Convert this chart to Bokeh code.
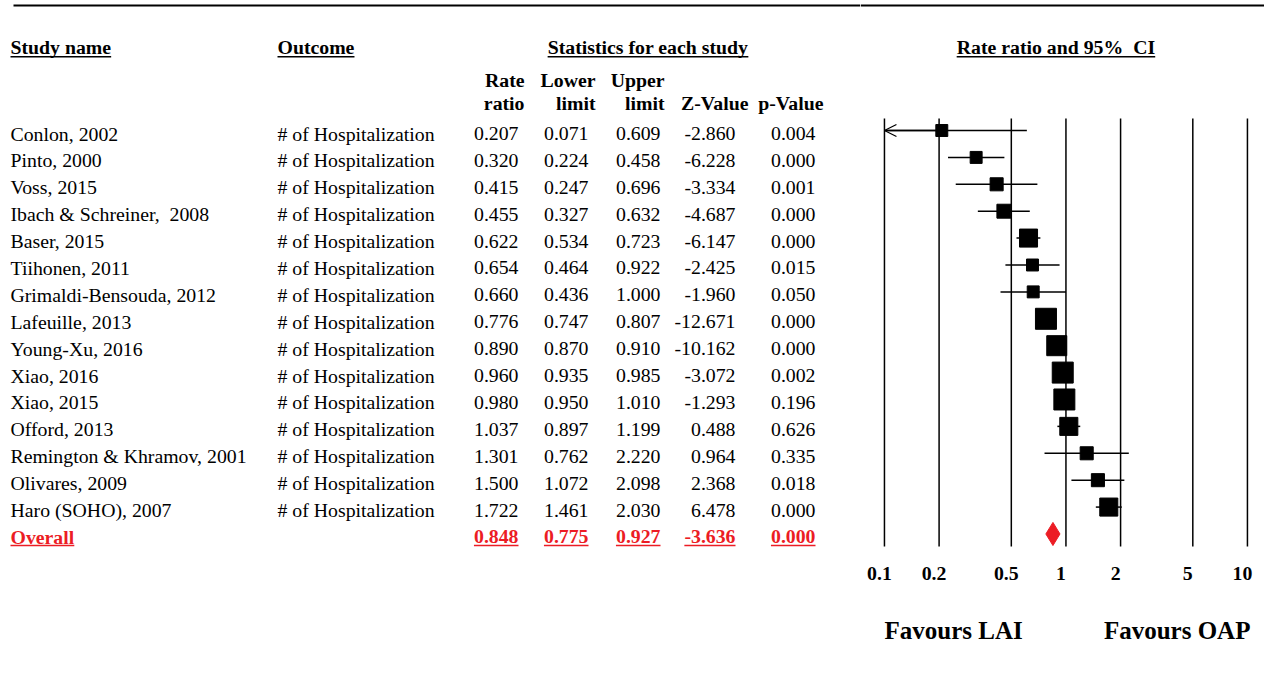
from bokeh.plotting import figure
from bokeh.layouts import row
from bokeh.models import Range1d, Span, Arrow, OpenHead
from bokeh.core.properties import value
from bokeh.embed import file_html
from bokeh.resources import INLINE
import math

NBSP = "\u00a0"

# ---- study data -------------------------------------------------------------
studies = [
    "Conlon, 2002", "Pinto, 2000", "Voss, 2015", "Ibach & Schreiner," + NBSP + " 2008",
    "Baser, 2015", "Tiihonen, 2011", "Grimaldi-Bensouda, 2012", "Lafeuille, 2013",
    "Young-Xu, 2016", "Xiao, 2016", "Xiao, 2015", "Offord, 2013",
    "Remington & Khramov, 2001", "Olivares, 2009", "Haro (SOHO), 2007",
]
outcome = ["# of Hospitalization"] * len(studies)
rate_ratio = [0.207, 0.320, 0.415, 0.455, 0.622, 0.654, 0.660, 0.776,
              0.890, 0.960, 0.980, 1.037, 1.301, 1.500, 1.722]
lower_limit = [0.071, 0.224, 0.247, 0.327, 0.534, 0.464, 0.436, 0.747,
               0.870, 0.935, 0.950, 0.897, 0.762, 1.072, 1.461]
upper_limit = [0.609, 0.458, 0.696, 0.632, 0.723, 0.922, 1.000, 0.807,
               0.910, 0.985, 1.010, 1.199, 2.220, 2.098, 2.030]
z_value = [-2.860, -6.228, -3.334, -4.687, -6.147, -2.425, -1.960, -12.671,
           -10.162, -3.072, -1.293, 0.488, 0.964, 2.368, 6.478]
p_value = [0.004, 0.000, 0.001, 0.000, 0.000, 0.015, 0.050, 0.000,
           0.000, 0.002, 0.196, 0.626, 0.335, 0.018, 0.000]
# relative study weights (box area is proportional to weight)
weight = [3.6, 3.6, 4.3, 4.9, 8.2, 3.6, 3.6, 11.1, 10.1, 11.1, 11.1, 8.2, 4.3, 4.3, 8.2]

overall_label = "Overall"
overall_rr, overall_lo, overall_hi, overall_z, overall_p = 0.848, 0.775, 0.927, -3.636, 0.000

tick_values = [0.1, 0.2, 0.5, 1, 2, 5, 10]
tick_labels = ["0.1", "0.2", "0.5", "1", "2", "5", "10"]
left_note, right_note = "Favours LAI", "Favours OAP"

# ---- styling ----------------------------------------------------------------
FONT = value("Liberation Serif")
FS = "19.8px"
RED = "#EC1C24"
W_LEFT, W_RIGHT, H = 860, 404, 679

# Times bold advance widths (per 1000 em) for underline lengths
_BOLD = {' ': 250, NBSP: 250, '%': 1000, '-': 333, '.': 250, 'A': 722, 'C': 722, 'I': 389,
         'O': 778, 'S': 556, 'R': 722, 'a': 500, 'c': 444, 'd': 556, 'e': 444,
         'f': 333, 'h': 556, 'i': 278, 'l': 278, 'm': 833, 'n': 556, 'o': 500,
         'r': 444, 's': 389, 't': 333, 'u': 556, 'v': 500, 'y': 500}


def bold_width(s, px=19.8):
    return sum(_BOLD.get(ch, 500) for ch in s) / 1000.0 * px


n = len(studies)
rows = list(range(n))
overall_row = n

# shared vertical range in row units (row 0 at top)
yr = Range1d(20.41, -4.833)

# vertical layout positions (row units)
Y_RULE = -4.647
Y_TITLE = -3.09
Y_TITLE_UL = -2.74
Y_HEAD1 = -1.86
Y_HEAD2 = -1.04
Y_GRID_TOP, Y_GRID_BOT = -0.446, 15.465
Y_TICKLAB = 16.47
Y_NOTE = 18.59
TEXT_DY = 3

# ---- left panel: study table -------------------------------------------------
pl = figure(width=W_LEFT, height=H, x_range=Range1d(0, W_LEFT), y_range=yr,
            toolbar_location=None, output_backend="svg", min_border=0,
            outline_line_color=None, x_axis_location=None, y_axis_location=None)
pl.grid.visible = False

pl.segment(x0=[13], y0=[Y_RULE], x1=[W_LEFT + 10], y1=[Y_RULE], line_color="black", line_width=2)

X_NAME, X_OUT = 10, 277
col_right = [518, 588, 660, 735, 815]
head_right = [524, 595, 664, 748, 823]
X_STATS_CENTER = 647.5

# column titles (bold, underlined)
titles = [("Study name", X_NAME, "left"), ("Outcome", X_OUT, "left"),
          ("Statistics for each study", X_STATS_CENTER, "center")]
for txt, x, align in titles:
    pl.text(x=[x], y=[Y_TITLE], text=[txt], text_font=FONT, text_font_size=FS,
            text_font_style="bold", text_align=align, text_baseline="middle")
    w = bold_width(txt)
    x0 = x if align == "left" else x - w / 2
    pl.segment(x0=[x0], y0=[Y_TITLE_UL], x1=[x0 + w], y1=[Y_TITLE_UL],
               line_color="black", line_width=1.5)

head1 = ["Rate", "Lower", "Upper", "", ""]
head2 = ["ratio", "limit", "limit", "Z-Value", "p-Value"]
pl.text(x=head_right, y=[Y_HEAD1] * 5, text=head1, text_font=FONT, text_font_size=FS,
        text_font_style="bold", text_align="right", text_baseline="middle")
pl.text(x=head_right, y=[Y_HEAD2] * 5, text=head2, text_font=FONT, text_font_size=FS,
        text_font_style="bold", text_align="right", text_baseline="middle")

# study rows
pl.text(x=[X_NAME] * n, y=rows, text=studies, text_font=FONT, text_font_size=FS,
        text_align="left", text_baseline="middle", y_offset=TEXT_DY)
pl.text(x=[X_OUT] * n, y=rows, text=outcome, text_font=FONT, text_font_size=FS,
        text_align="left", text_baseline="middle", y_offset=TEXT_DY)
columns = [rate_ratio, lower_limit, upper_limit, z_value, p_value]
for xr, vals in zip(col_right, columns):
    pl.text(x=[xr] * n, y=rows, text=[f"{v:.3f}" for v in vals], text_font=FONT,
            text_font_size=FS, text_align="right", text_baseline="middle", y_offset=TEXT_DY)

# overall row (bold, red, underlined)
Y_OV_UL = overall_row + 0.43
pl.text(x=[X_NAME], y=[overall_row], text=[overall_label], text_font=FONT, text_font_size=FS,
        text_font_style="bold", text_color=RED, text_align="left", text_baseline="middle",
        y_offset=TEXT_DY)
w = bold_width(overall_label)
pl.segment(x0=[X_NAME], y0=[Y_OV_UL], x1=[X_NAME + w], y1=[Y_OV_UL], line_color=RED, line_width=1.5)
ov_vals = [overall_rr, overall_lo, overall_hi, overall_z, overall_p]
ov_txt = [f"{v:.3f}" for v in ov_vals]
pl.text(x=col_right, y=[overall_row] * 5, text=ov_txt, text_font=FONT, text_font_size=FS,
        text_font_style="bold", text_color=RED, text_align="right", text_baseline="middle",
        y_offset=TEXT_DY)
for xr, t in zip(col_right, ov_txt):
    pl.segment(x0=[xr - bold_width(t)], y0=[Y_OV_UL], x1=[xr], y1=[Y_OV_UL],
               line_color=RED, line_width=1.5)

# ---- right panel: forest plot on a log axis ---------------------------------
L0, L1 = -1.132, 1.094
px_per_decade = W_RIGHT / (L1 - L0)
pr = figure(width=W_RIGHT, height=H, x_axis_type="log", x_range=Range1d(10 ** L0, 10 ** L1),
            y_range=yr, toolbar_location=None, output_backend="svg", min_border=0,
            outline_line_color=None, x_axis_location=None, y_axis_location=None)
pr.grid.visible = False

pr.add_layout(Span(location=Y_RULE, dimension="width", line_color="black", line_width=2))

# panel title, centred a little left of 1
title = "Rate ratio and 95%" + NBSP + " CI"
TITLE_DX = -10
pr.text(x=[1], y=[Y_TITLE], text=[title], text_font=FONT, text_font_size=FS,
        text_font_style="bold", text_align="center", text_baseline="middle", x_offset=TITLE_DX)
tw = bold_width(title)
ul0 = 10 ** ((TITLE_DX - tw / 2) / px_per_decade)
ul1 = 10 ** ((TITLE_DX + tw / 2) / px_per_decade)
pr.segment(x0=[ul0], y0=[Y_TITLE_UL], x1=[ul1], y1=[Y_TITLE_UL], line_color="black", line_width=1.5)

# vertical reference lines at each tick
k = len(tick_values)
pr.segment(x0=tick_values, y0=[Y_GRID_TOP] * k, x1=tick_values, y1=[Y_GRID_BOT] * k,
           line_color="black", line_width=1.5)
pr.text(x=tick_values, y=[Y_TICKLAB] * k, text=tick_labels, text_font=FONT, text_font_size=FS,
        text_font_style="bold", text_align="center", text_baseline="middle", x_offset=-5)

# confidence intervals, clipped to the axis, with an arrow where clipped
xmin, xmax = tick_values[0], tick_values[-1]
ci_lo = [max(v, xmin) for v in lower_limit]
ci_hi = [min(v, xmax) for v in upper_limit]
pr.segment(x0=ci_lo, y0=rows, x1=ci_hi, y1=rows, line_color="black", line_width=1.5)
for i in rows:
    if lower_limit[i] < xmin:
        pr.add_layout(Arrow(end=OpenHead(size=12, line_width=1.3, line_color="black"),
                            x_start=rate_ratio[i], y_start=i, x_end=xmin, y_end=i,
                            line_width=1.3, line_color="black"))

# weighted boxes
box_sizes = [6.3 * math.sqrt(w) for w in weight]
pr.scatter(x=rate_ratio, y=rows, marker="square", size=box_sizes,
           fill_color="black", line_color="black")

# pooled estimate diamond
half_h = 0.43
pr.patch(x=[overall_lo, overall_rr, overall_hi, overall_rr],
         y=[overall_row, overall_row - half_h, overall_row, overall_row + half_h],
         fill_color=RED, line_color=RED)

# direction notes
pr.text(x=[xmin], y=[Y_NOTE], text=[left_note], text_font=FONT, text_font_size="25px",
        text_font_style="bold", text_align="left", text_baseline="middle")
pr.text(x=[xmax], y=[Y_NOTE], text=[right_note], text_font=FONT, text_font_size="25px",
        text_font_style="bold", text_align="right", text_baseline="middle", x_offset=3)

layout = row(pl, pr)
open("out.html", "w").write(file_html(layout, INLINE))
